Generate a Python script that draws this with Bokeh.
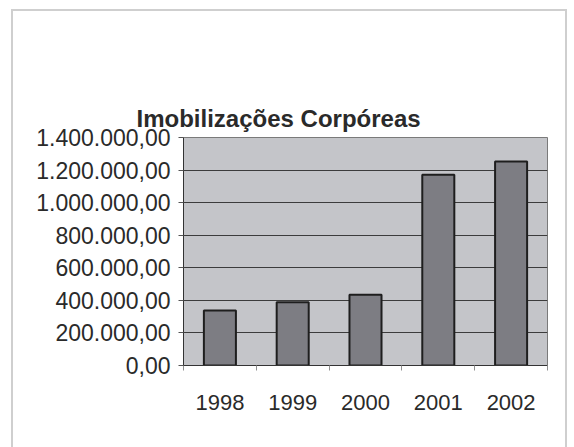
from bokeh.plotting import figure
from bokeh.models import Range1d, FixedTicker, LinearAxis
from bokeh.embed import file_html
from bokeh.resources import INLINE

# ---- data ----
title_text = "Imobilizações Corpóreas"
years = ["1998", "1999", "2000", "2001", "2002"]
values = [337000, 388000, 435000, 1171000, 1253000]
y_ticks = [0, 200000, 400000, 600000, 800000, 1000000, 1200000, 1400000]
y_labels = ["0,00", "200.000,00", "400.000,00", "600.000,00", "800.000,00",
            "1.000.000,00", "1.200.000,00", "1.400.000,00"]

FONT = "Liberation Sans"
TXT = "#2a2a2a"

# category slots on a numeric axis: centre of slot i is i + 0.5
n = len(years)
x_pos = [i + 0.5 for i in range(n)]

p = figure(width=556, height=440, x_range=Range1d(0, n),
           y_range=Range1d(0, 1400000), output_backend="svg",
           toolbar_location=None, title=title_text,
           margin=(9, 0, 0, 11),
           styles={"border": "2px solid #cfcfcf"})
p.min_border_left = 170
p.min_border_top = 126
p.min_border_right = 22
p.min_border_bottom = 86
p.background_fill_color = "#c4c5c9"
p.border_fill_color = "white"
p.outline_line_color = "#7a7a7a"
p.outline_line_width = 1

# bars
p.vbar(x=x_pos, top=values, width=0.44, fill_color="#7d7d83",
       line_color="#1e1e1e", line_width=2)

# y axis
ya = p.yaxis[0]
ya.ticker = FixedTicker(ticks=y_ticks)
ya.major_label_overrides = {t: l for t, l in zip(y_ticks, y_labels)}
ya.major_label_text_font = FONT
ya.major_label_text_font_size = "23px"
ya.major_label_text_color = TXT
ya.major_tick_out = 5
ya.major_tick_in = 0
ya.minor_tick_out = 0
ya.minor_tick_in = 0
ya.major_label_standoff = 8
ya.axis_line_color = "#333333"
ya.major_tick_line_color = "#555555"

p.ygrid.grid_line_color = "#3c3c3c"
p.ygrid.grid_line_width = 1
p.xgrid.grid_line_color = None

# x axis: labels at slot centres, small ticks at slot boundaries
xa = p.xaxis[0]
xa.ticker = FixedTicker(ticks=x_pos, minor_ticks=list(range(n + 1)))
xa.major_label_overrides = {x: y for x, y in zip(x_pos, years)}
xa.major_tick_out = 0
xa.major_tick_in = 0
xa.minor_tick_out = 5
xa.minor_tick_in = 0
xa.minor_tick_line_color = "#909090"
xa.axis_line_color = "#333333"
xa.major_label_text_font = FONT
xa.major_label_text_font_size = "22px"
xa.major_label_text_color = TXT
xa.major_label_standoff = 24

# empty axis above the frame, used only as vertical space under the title
spacer_axis = LinearAxis(ticker=FixedTicker(ticks=[]), major_tick_out=74,
                         major_tick_in=0, minor_tick_out=0, minor_tick_in=0,
                         major_label_standoff=0, axis_line_color=None,
                         major_tick_line_color="white",
                         minor_tick_line_color=None)
p.add_layout(spacer_axis, "above")

# title (outermost panel)
p.title.text_font = FONT
p.title.text_font_size = "24px"
p.title.text_font_style = "bold"
p.title.text_color = TXT
p.title.align = "left"
p.title.offset = -47
p.title.standoff = 10
p.title.vertical_align = "middle"

open("out.html", "w").write(file_html(p, INLINE))
